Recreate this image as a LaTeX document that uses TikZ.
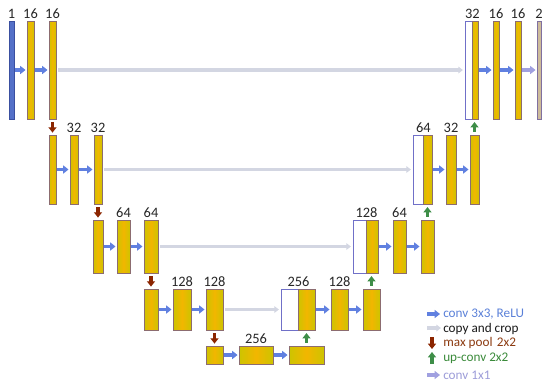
\documentclass[tikz,border=0pt]{standalone}
\usepackage{fontspec}
\setmainfont{Carlito}
\usetikzlibrary{fit,arrows.meta}
\definecolor{bluebar}{HTML}{5470C8}
\definecolor{bluebord}{HTML}{3A4FA0}
\definecolor{yelo}{HTML}{CDC400}
\definecolor{yorange}{HTML}{F2B600}
\definecolor{barbord}{HTML}{8C6C70}
\definecolor{wbord}{HTML}{7070C8}
\definecolor{tanbar}{HTML}{CDBB9A}
\definecolor{tanbord}{HTML}{8070A0}
\definecolor{convc}{HTML}{6080E0}
\definecolor{copyc}{HTML}{D3D6E2}
\definecolor{poolc}{HTML}{8B2500}
\definecolor{upc}{HTML}{3E8E48}
\definecolor{onec}{HTML}{A0A0E0}
\definecolor{convt}{HTML}{5A80D8}
\definecolor{poolt}{HTML}{8B3A10}
\definecolor{upt}{HTML}{3A8A3A}
\definecolor{onet}{HTML}{9C9CD8}
\begin{document}
\begin{tikzpicture}[x=0.75pt,y=-0.75pt,
  bar/.style={draw=barbord, line width=0.6pt, inner sep=0pt},
  ybar/.style={bar, left color=yelo, right color=yelo, middle color=yorange},
  bbar/.style={draw=bluebord, fill=bluebar, line width=0.6pt, inner sep=0pt},
  tbar/.style={draw=tanbord, fill=tanbar, line width=0.6pt, inner sep=0pt},
  wbar/.style={draw=wbord, fill=white, line width=0.7pt, inner sep=0pt},
  lab/.style={anchor=south, inner sep=1.6pt, font=\fontsize{10.8}{12}\selectfont, text=black!85},
  leg/.style={anchor=west, inner sep=0pt, font=\fontsize{9.9}{11}\selectfont},
  conv/.style={draw=convc, line width=2.3pt, -{Triangle[length=4pt,width=6pt]}, shorten <=0.8pt, shorten >=0.8pt},
  one/.style={draw=onec, line width=2.3pt, -{Triangle[length=4pt,width=6pt]}, shorten <=0.8pt, shorten >=0.8pt},
  copyarr/.style={draw=copyc, line width=2.6pt, -{Triangle[length=3.5pt,width=5pt]}, shorten <=1.5pt, shorten >=1.2pt},
  pool/.style={draw=poolc, line width=2.3pt, -{Triangle[length=4pt,width=6pt]}, shorten <=2pt, shorten >=1.5pt},
  up/.style={draw=upc, line width=2.3pt, -{Triangle[length=4pt,width=6pt]}, shorten <=2pt, shorten >=2pt}
]
\useasboundingbox (0,0) rectangle (550,387);

% level 1
\node[bbar, fit={(9,21) (14,119)}] (b1) {};
\node[ybar, fit={(27,21) (34,119)}] (b2) {};
\node[ybar, fit={(49,21) (56,119)}] (b3) {};
\node[wbar, fit={(465,21) (472,119)}] (w1) {};
\node[ybar, fit={(472,21) (478,119)}] (y1) {};
\node[ybar, fit={(493,21) (499,119)}] (b4) {};
\node[ybar, fit={(515,21) (521,119)}] (b5) {};
\node[tbar, fit={(537,21) (541,119)}] (b6) {};
\node[lab] (tb1) at (b1.north) {1};
\node[lab] (tb2) at (b2.north) {16};
\node[lab] (tb3) at (b3.north) {16};
\node[lab] (tw1) at (w1.north east) {32};
\node[lab] (tb4) at (b4.north) {16};
\node[lab] (tb5) at (b5.north) {16};
\node[lab] (tb6) at (b6.north) {2};

% level 2
\node[ybar, fit={(49,135) (56,204)}] (c1) {};
\node[ybar, fit={(70,135) (78,204)}] (c2) {};
\node[ybar, fit={(94,135) (102,204)}] (c3) {};
\node[wbar, fit={(413,135) (423,204)}] (w2) {};
\node[ybar, fit={(423,135) (432,204)}] (y2) {};
\node[ybar, fit={(446,135) (456,204)}] (c4) {};
\node[ybar, fit={(470,135) (479,204)}] (c5) {};
\node[lab] (tc2) at (c2.north) {32};
\node[lab] (tc3) at (c3.north) {32};
\node[lab] (tw2) at (w2.north east) {64};
\node[lab] (tc4) at (c4.north) {32};

% level 3
\node[ybar, fit={(93,220) (103,273)}] (d1) {};
\node[ybar, fit={(117,220) (130,273)}] (d2) {};
\node[ybar, fit={(144,220) (158,273)}] (d3) {};
\node[wbar, fit={(353,220) (366,273)}] (w3) {};
\node[ybar, fit={(366,220) (378,273)}] (y3) {};
\node[ybar, fit={(393,220) (406,273)}] (d4) {};
\node[ybar, fit={(421,220) (434,273)}] (d5) {};
\node[lab] (td2) at (d2.north) {64};
\node[lab] (td3) at (d3.north) {64};
\node[lab] (tw3) at (w3.north east) {128};
\node[lab] (td4) at (d4.north) {64};

% level 4
\node[ybar, fit={(144,289) (158,330)}] (e1) {};
\node[ybar, fit={(173,289) (191,330)}] (e2) {};
\node[ybar, fit={(206,289) (223,330)}] (e3) {};
\node[wbar, fit={(281,289) (298,330)}] (w4) {};
\node[ybar, fit={(298,289) (315,330)}] (y4) {};
\node[ybar, fit={(331,289) (348,330)}] (e4) {};
\node[ybar, fit={(363,289) (380,330)}] (e5) {};
\node[lab] (te2) at (e2.north) {128};
\node[lab] (te3) at (e3.north) {128};
\node[lab] (tw4) at (w4.north east) {256};
\node[lab] (te4) at (e4.north) {128};

% level 5
\node[ybar, fit={(206,346) (223,364)}] (f1) {};
\node[ybar, fit={(239,346) (273,364)}] (f2) {};
\node[ybar, fit={(289,346) (324,364)}] (f3) {};
\node[lab] (tf2) at (f2.north) {256};

% copy and crop
\draw[copyarr] (b3.east) -- (w1.west);
\draw[copyarr] (c3.east) -- (w2.west);
\draw[copyarr] (d3.east) -- (w3.west);
\draw[copyarr] (e3.east) -- (w4.west);

% conv 3x3
\draw[conv] (b1.east) -- (b2.west);
\draw[conv] (b2.east) -- (b3.west);
\draw[conv] (y1.east) -- (b4.west);
\draw[conv] (b4.east) -- (b5.west);
\draw[conv] (c1.east) -- (c2.west);
\draw[conv] (c2.east) -- (c3.west);
\draw[conv] (y2.east) -- (c4.west);
\draw[conv] (c4.east) -- (c5.west);
\draw[conv] (d1.east) -- (d2.west);
\draw[conv] (d2.east) -- (d3.west);
\draw[conv] (y3.east) -- (d4.west);
\draw[conv] (d4.east) -- (d5.west);
\draw[conv] (e1.east) -- (e2.west);
\draw[conv] (e2.east) -- (e3.west);
\draw[conv] (y4.east) -- (e4.west);
\draw[conv] (e4.east) -- (e5.west);
\draw[conv] (f1.east) -- (f2.west);
\draw[conv] (f2.east) -- (f3.west);

% conv 1x1
\draw[one] (b5.east) -- (b6.west);

% max pool
\draw[pool] (b3.south) -- (c1.north);
\draw[pool] (c3.south) -- (d1.north);
\draw[pool] (d3.south) -- (e1.north);
\draw[pool] (e3.south) -- (f1.north);

% up-conv
\draw[up] (f3.north) -- (f3.north |- y4.south);
\draw[up] (e5.north) -- (e5.north |- y3.south);
\draw[up] (d5.north) -- (d5.north |- y2.south);
\draw[up] (c5.north) -- (c5.north |- y1.south);

% legend
\coordinate (la1) at (427,314); \coordinate (lb1) at (440,314);
\coordinate (la2) at (427,328); \coordinate (lb2) at (441,328);
\coordinate (la3) at (432,337); \coordinate (lb3) at (432,349);
\coordinate (la4) at (432,364); \coordinate (lb4) at (432,352);
\coordinate (la5) at (427,375); \coordinate (lb5) at (440,375);
\draw[conv, shorten <=0pt, shorten >=0pt] (la1) -- (lb1);
\draw[copyarr, shorten <=0pt, shorten >=0pt] (la2) -- (lb2);
\draw[pool, shorten <=0pt, shorten >=0pt] (la3) -- (lb3);
\draw[up, shorten <=0pt, shorten >=0pt] (la4) -- (lb4);
\draw[one, shorten <=0pt, shorten >=0pt] (la5) -- (lb5);
\node[leg, text=convt] (l1) at (443,314) {conv 3x3, ReLU};
\node[leg, text=black!90] (l2) at (443,329) {copy and crop};
\node[leg, text=poolt] (l3) at (443,343) {max pool\,\,2x2};
\node[leg, text=upt] (l4) at (443,358) {up-conv 2x2};
\node[leg, text=onet] (l5) at (443,375) {conv 1x1};
\end{tikzpicture}
\end{document}
